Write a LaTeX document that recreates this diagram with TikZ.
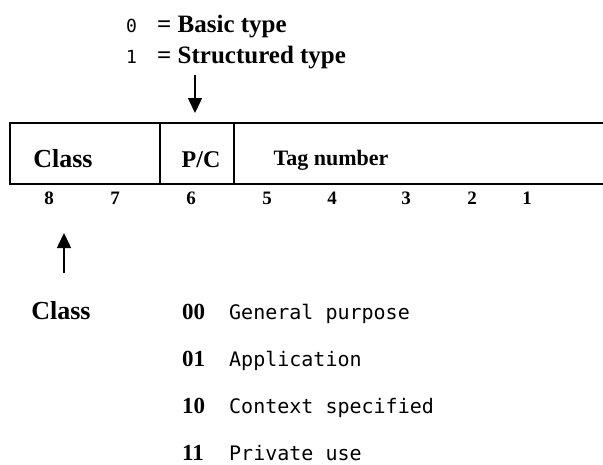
\documentclass[tikz,border=0pt]{standalone}
\usepackage{fontspec}
\setmainfont{Liberation Serif}
\newfontfamily\monof{DejaVu Sans Mono}
\usetikzlibrary{arrows.meta}
\begin{document}
\begin{tikzpicture}[x=1pt,y=-1pt,
  lbl/.style={inner sep=0pt, outer sep=0pt, anchor=base, font=\bfseries\fontsize{26}{30}\selectfont},
  bitnum/.style={inner sep=0pt, anchor=base, font=\bfseries\fontsize{19}{20}\selectfont},
  code/.style={inner sep=0pt, anchor=base west, font=\bfseries\fontsize{23}{26}\selectfont},
  desc/.style={inner sep=0pt, anchor=base west, font=\monof\fontsize{20}{24}\selectfont},
  digit/.style={inner sep=0pt, anchor=base, font=\monof\fontsize{18}{20}\selectfont},
  eqtext/.style={inner sep=0pt, anchor=base west, font=\bfseries\fontsize{25}{30}\selectfont},
  frame/.style={line width=1.8pt},
  pointer/.style={line width=1.5pt, -{Triangle[width=14pt,length=15pt]}},
]
\useasboundingbox (0,0) rectangle (603,464);
% legend for P/C
\node[digit] (zero) at (131.5,32) {0};
\node[eqtext] (basic) at (157,32) {= Basic type};
\node[digit] (one) at (131.5,63) {1};
\node[eqtext] (struct) at (157,63) {= Structured type};
\coordinate (pcfrom) at (195,75);
\coordinate (pcto) at (195,113);
\draw[pointer] (pcfrom) -- (pcto);
% octet box
\draw[frame] (603,123) -- (10,123) -- (10,184) -- (603,184);
\draw[frame] (160,123) -- (160,184);
\draw[frame] (234,123) -- (234,184);
\node[lbl] (classbox) at (63,167) {Class};
\node[lbl, font=\bfseries\fontsize{24}{28}\selectfont] (pc) at (201,167) {P/C};
\node[lbl, font=\bfseries\fontsize{22}{26}\selectfont] (tag) at (331,165) {Tag number};
% bit numbers
\node[bitnum] (b8) at (49,204) {8};
\node[bitnum] (b7) at (115,204) {7};
\node[bitnum] (b6) at (191,204) {6};
\node[bitnum] (b5) at (267,204) {5};
\node[bitnum] (b4) at (332,204) {4};
\node[bitnum] (b3) at (406,204) {3};
\node[bitnum] (b2) at (472,204) {2};
\node[bitnum] (b1) at (527,204) {1};
% class legend
\coordinate (clfrom) at (64,273);
\coordinate (clto) at (64,233);
\draw[pointer] (clfrom) -- (clto);
\node[lbl] (classlbl) at (61,319) {Class};
\node[code] (c00) at (182,319) {00};
\node[desc] (d00) at (229,319) {General purpose};
\node[code] (c01) at (182,366) {01};
\node[desc] (d01) at (229,366) {Application};
\node[code] (c10) at (182,413) {10};
\node[desc] (d10) at (229,413) {Context specified};
\node[code] (c11) at (182,460) {11};
\node[desc] (d11) at (229,460) {Private use};
\end{tikzpicture}
\end{document}
